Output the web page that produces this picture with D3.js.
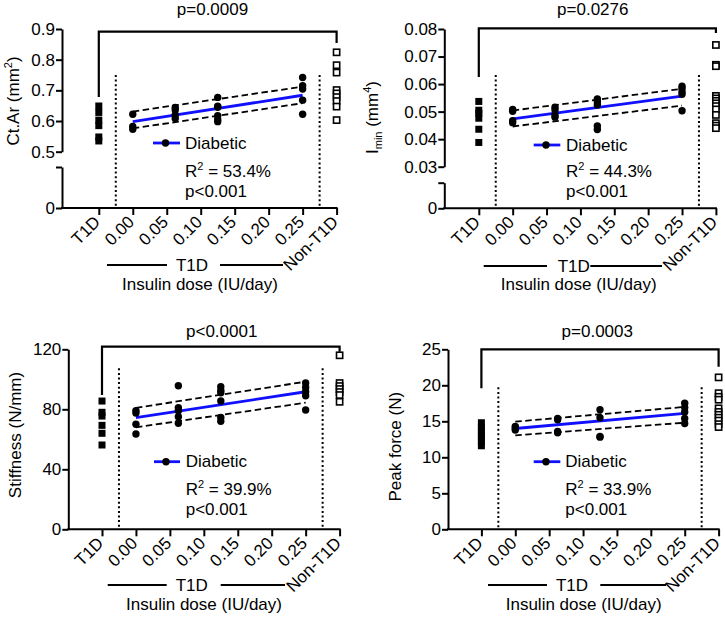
<!DOCTYPE html>
<html><head><meta charset="utf-8">
<script src="https://cdn.jsdelivr.net/npm/d3@7"></script>
<style>
body{margin:0;background:#fff}
svg{display:block}
text{font-family:"Liberation Sans",Arial,Helvetica,sans-serif;fill:#000}
</style></head><body>
<svg id="chart" width="725" height="619"></svg>
<script>
// ---------- shared ----------
const xTickValues = [-0.05, 0, 0.05, 0.10, 0.15, 0.20, 0.25, 0.30];
const xTickLabels = ["T1D", "0.00", "0.05", "0.10", "0.15", "0.20", "0.25", "Non-T1D"];
const doseLevels = [0, 0.0625, 0.125, 0.25];
const fitDoses = [0, 0.25];
const groupLabel = "T1D";
const xAxisTitle = "Insulin dose (IU/day)";
const legendLabel = "Diabetic";
const regressionP = "p<0.001";

// ---------- Ct.Ar ----------
const ctArTicks = [0.5, 0.6, 0.7, 0.8, 0.9];
const ctArDiabetic = [[0.622, 0.582, 0.573], [0.644, 0.636, 0.620, 0.608], [0.677, 0.648, 0.645, 0.617, 0.605, 0.598], [0.742, 0.715, 0.704, 0.668, 0.622]];
const ctArT1D = [0.649, 0.628, 0.603, 0.585, 0.548, 0.535];
const ctArNonT1D = [0.824, 0.782, 0.758, 0.701, 0.690, 0.678, 0.665, 0.647, 0.603];
const ctArFit = [0.598, 0.684];
const ctArUpper = [0.631, 0.712];
const ctArLower = [0.576, 0.658];
const ctArTitle = "p=0.0009";
const ctArR2 = "53.4%";

// ---------- Imin ----------
const iminTicks = [0.03, 0.04, 0.05, 0.06, 0.07, 0.08];
const iminDiabetic = [[0.0508, 0.0501, 0.0467, 0.0460], [0.0516, 0.0506, 0.0488, 0.0480], [0.0546, 0.0536, 0.0524, 0.0448, 0.0435], [0.0592, 0.0584, 0.0572, 0.0563, 0.0503]];
const iminT1D = [0.0537, 0.0505, 0.0494, 0.0476, 0.0436, 0.0388];
const iminNonT1D = [0.0742, 0.0670, 0.0665, 0.0557, 0.0548, 0.0539, 0.0530, 0.0520, 0.0508, 0.0488, 0.0458, 0.0449, 0.0440];
const iminFit = [0.0474, 0.0556];
const iminUpper = [0.0504, 0.0583];
const iminLower = [0.0446, 0.0522];
const iminTitle = "p=0.0276";
const iminR2 = "44.3%";

// ---------- Stiffness ----------
const stiffTicks = [0, 40, 80, 120];
const stiffDiabetic = [[79, 77.5, 70, 63.5], [95.7, 81, 79, 75, 70.7], [95, 92.5, 91, 85.5, 74.5, 72], [97.5, 94.5, 91.7, 89, 79.5]];
const stiffT1D = [85.5, 78, 75.5, 69.3, 64, 56.2];
const stiffNonT1D = [116, 97.5, 95.5, 93.5, 91.5, 89.5, 85];
const stiffFit = [74.5, 91.7];
const stiffUpper = [81, 98.4];
const stiffLower = [68, 84.4];
const stiffTitle = "p<0.0001";
const stiffR2 = "39.9%";

// ---------- Peak force ----------
const forceTicks = [0, 5, 10, 15, 20, 25];
const forceDiabetic = [[14.3, 14.0, 13.8], [15.4, 15.2, 13.6, 13.4], [16.6, 15.5, 12.9, 12.8], [17.5, 16.9, 16.3, 15.4, 14.7]];
const forceT1D = [14.8, 14.2, 13.7, 13.2, 12.7, 12.2, 11.6];
const forceNonT1D = [21.1, 18.9, 18.4, 18.0, 16.8, 16.3, 15.9, 15.5, 15.1, 14.6, 14.2];
const forceFit = [14.0, 16.1];
const forceUpper = [14.95, 17.0];
const forceLower = [13.05, 14.8];
const forceTitle = "p=0.0003";
const forceR2 = "33.9%";

const svg = d3.select("#chart");
const BLUE = "#1010ff";
const FS = 17, TFS = 17;

const panels = [
  { data: { ticks: ctArTicks, fmt: ".1f", diab: ctArDiabetic, t1d: ctArT1D, non: ctArNonT1D, fit: ctArFit, up: ctArUpper, lo: ctArLower, title: ctArTitle, r2: ctArR2, lowerDomain: [0, 0.1] },
    yLabel: ["Ct.Ar (mm", "2", ")"], sub: null,
    axisX: 62, xRange: [98.8, 336.6], yRange: [151.7, 29], lowerRange: [208, 167], baseY: 208,
    bracket: [31.7, 97, 43], titleXY: [212.5, 15], dotTop: 75,
    legend: { x1: 153, x2: 180, y: 143, tx: 185, y1: 148.5, y2: 176.5, y3: 196.5 },
    group: { y: 265, segs: [[107, 167], [220, 283]], tx: 192 }, xLab: [200, 290], yLab: [12.5, 101] },
  { data: { ticks: iminTicks, fmt: ".2f", diab: iminDiabetic, t1d: iminT1D, non: iminNonT1D, fit: iminFit, up: iminUpper, lo: iminLower, title: iminTitle, r2: iminR2, lowerDomain: [0, 0.01] },
    yLabel: null, sub: true,
    axisX: 444.3, xRange: [478.8, 715.9], yRange: [166.7, 29], lowerRange: [208.3, 182.7], baseY: 208.3,
    bracket: [28.3, 77, 33], titleXY: [592.8, 15], dotTop: 75,
    legend: { x1: 533.7, x2: 560.3, y: 145, tx: 566, y1: 150.5, y2: 176.5, y3: 197 },
    group: { y: 266, segs: [[483.7, 547], [590.3, 662]], tx: 573.7 }, xLab: [578.7, 290], yLab: [372, 117.5] },
  { data: { ticks: stiffTicks, fmt: "d", diab: stiffDiabetic, t1d: stiffT1D, non: stiffNonT1D, fit: stiffFit, up: stiffUpper, lo: stiffLower, title: stiffTitle, r2: stiffR2, lowerDomain: null },
    yLabel: ["Stiffness (N/mm)"], sub: null,
    axisX: 68.3, xRange: [102, 339.6], yRange: [529.3, 349.3], lowerRange: null, baseY: 529.3,
    bracket: [346.7, 395, 351.7], titleXY: [221.7, 336.7], dotTop: 368.3,
    legend: { x1: 154, x2: 180, y: 461.7, tx: 185.7, y1: 467, y2: 495, y3: 515 },
    group: { y: 585, segs: [[107.7, 166.7], [220.7, 285]], tx: 191.7 }, xLab: [204, 610], yLab: [15, 435] },
  { data: { ticks: forceTicks, fmt: "d", diab: forceDiabetic, t1d: forceT1D, non: forceNonT1D, fit: forceFit, up: forceUpper, lo: forceLower, title: forceTitle, r2: forceR2, lowerDomain: null },
    yLabel: ["Peak force (N)"], sub: null,
    axisX: 448, xRange: [481.4, 718.6], yRange: [529.3, 349.3], lowerRange: null, baseY: 529.3,
    bracket: [349.3, 388.3, 366.7], titleXY: [597.3, 336.7], dotTop: 387.3,
    legend: { x1: 533.7, x2: 560.3, y: 461.7, tx: 565.3, y1: 467, y2: 495, y3: 515 },
    group: { y: 585, segs: [[488, 547], [600.3, 666]], tx: 572 }, xLab: [583.7, 610], yLab: [395.3, 446.7] }
];

function styleAxis(sel) {
  sel.selectAll("path.domain").attr("stroke", "#000").attr("stroke-width", 2);
  sel.selectAll(".tick line").attr("stroke", "#000").attr("stroke-width", 2);
  sel.selectAll("text").attr("font-size", TFS).attr("font-family", '"Liberation Sans",Arial,sans-serif').attr("fill", "#000");
}

panels.forEach(p => {
  const d = p.data;
  const g = svg.append("g");
  const x = d3.scaleLinear().domain([xTickValues[0], xTickValues[xTickValues.length - 1]]).range(p.xRange);
  const dom = [d.ticks[0], d.ticks[d.ticks.length - 1]];
  const y = d3.scaleLinear().domain(dom).range(p.yRange);

  // dotted separators
  [-0.025, 0.275].forEach(v => {
    g.append("line").attr("x1", x(v)).attr("x2", x(v)).attr("y1", p.dotTop).attr("y2", p.baseY)
      .attr("stroke", "#000").attr("stroke-width", 2).attr("stroke-dasharray", "2,2.6");
  });

  // y axis (upper)
  const ya = g.append("g").attr("transform", `translate(${p.axisX},0)`)
    .call(d3.axisLeft(y).tickValues(d.ticks).tickFormat(d3.format(d.fmt)).tickSize(6).tickSizeOuter(0).tickPadding(1));
  styleAxis(ya);
  if (d.lowerDomain) {
    const yl = d3.scaleLinear().domain(d.lowerDomain).range(p.lowerRange);
    const yb = g.append("g").attr("transform", `translate(${p.axisX},0)`)
      .call(d3.axisLeft(yl).tickValues(d.lowerDomain).tickFormat(v => v === 0 ? "0" : "").tickSize(6).tickSizeOuter(0).tickPadding(1));
    styleAxis(yb);
  }

  // x axis
  const xa = g.append("g").attr("transform", `translate(0,${p.baseY})`)
    .call(d3.axisBottom(x).tickValues(xTickValues).tickFormat((v, i) => xTickLabels[i]).tickSize(7).tickSizeOuter(0));
  styleAxis(xa);
  xa.select("path.domain").remove();
  xa.append("line").attr("x1", p.axisX - 1).attr("x2", x(xTickValues[xTickValues.length - 1]) + 1).attr("y1", 0).attr("y2", 0)
    .attr("stroke", "#000").attr("stroke-width", 2);
  xa.selectAll(".tick text").attr("x", null).attr("y", null).attr("dy", null)
    .attr("text-anchor", "end").attr("transform", "translate(2,15) rotate(-45)");

  // CI dashed + fit line
  const line = d3.line().x((v, i) => x(fitDoses[i])).y(v => y(v));
  [d.up, d.lo].forEach(arr => g.append("path").attr("d", line(arr)).attr("fill", "none")
    .attr("stroke", "#000").attr("stroke-width", 1.8).attr("stroke-dasharray", "6.5,3.5"));
  g.append("path").attr("d", line(d.fit)).attr("fill", "none").attr("stroke", BLUE).attr("stroke-width", 2.8);

  // diabetic points
  d.diab.forEach((vals, i) => vals.forEach(v => g.append("circle").attr("cx", x(doseLevels[i])).attr("cy", y(v)).attr("r", 3.7).attr("fill", "#000")));

  // T1D filled squares, Non-T1D open squares
  const s = 7;
  d.t1d.forEach(v => g.append("rect").attr("x", x(xTickValues[0]) - s / 2).attr("y", y(v) - s / 2).attr("width", s).attr("height", s).attr("fill", "#000"));
  const so = 6.2;
  d.non.forEach(v => g.append("rect").attr("x", x(xTickValues[xTickValues.length - 1]) - so / 2).attr("y", y(v) - so / 2).attr("width", so).attr("height", so)
    .attr("fill", "#fff").attr("stroke", "#000").attr("stroke-width", 1.6));

  // bracket
  const xl = x(xTickValues[0]), xr = x(xTickValues[xTickValues.length - 1]);
  g.append("path").attr("d", `M${xl},${p.bracket[1]}V${p.bracket[0]}H${xr}V${p.bracket[2]}`)
    .attr("fill", "none").attr("stroke", "#000").attr("stroke-width", 2.2);
  g.append("text").attr("x", p.titleXY[0]).attr("y", p.titleXY[1]).attr("text-anchor", "middle").attr("font-size", FS).text(d.title);

  // legend
  const L = p.legend;
  g.append("line").attr("x1", L.x1).attr("x2", L.x2).attr("y1", L.y).attr("y2", L.y).attr("stroke", BLUE).attr("stroke-width", 2.8);
  g.append("circle").attr("cx", (L.x1 + L.x2) / 2 - 1).attr("cy", L.y).attr("r", 3.7).attr("fill", "#000");
  g.append("text").attr("x", L.tx).attr("y", L.y1).attr("font-size", FS).text(legendLabel);
  const r2 = g.append("text").attr("x", L.tx).attr("y", L.y2).attr("font-size", FS);
  r2.append("tspan").text("R");
  r2.append("tspan").attr("font-size", 11).attr("dy", -7).text("2");
  r2.append("tspan").attr("dy", 7).text(" = " + d.r2);
  g.append("text").attr("x", L.tx).attr("y", L.y3).attr("font-size", FS).text(regressionP);

  // group line + axis title
  p.group.segs.forEach(sg => g.append("line").attr("x1", sg[0]).attr("x2", sg[1]).attr("y1", p.group.y).attr("y2", p.group.y).attr("stroke", "#000").attr("stroke-width", 2));
  g.append("text").attr("x", p.group.tx).attr("y", p.group.y).attr("dy", "0.36em").attr("text-anchor", "middle").attr("font-size", FS).text(groupLabel);
  g.append("text").attr("x", p.xLab[0]).attr("y", p.xLab[1]).attr("text-anchor", "middle").attr("font-size", FS).text(xAxisTitle);

  // y label
  const yt = g.append("text").attr("transform", `translate(${p.yLab[0]},${p.yLab[1]}) rotate(-90)`)
    .attr("text-anchor", "middle").attr("dy", "0.36em").attr("font-size", FS);
  if (p.sub) {
    yt.append("tspan").text("I");
    yt.append("tspan").attr("font-size", 11).attr("dy", 4).text("min");
    yt.append("tspan").attr("dy", -4).text(" (mm");
    yt.append("tspan").attr("font-size", 11).attr("dy", -7).text("4");
    yt.append("tspan").attr("dy", 7).text(")");
  } else if (p.yLabel.length === 3) {
    yt.append("tspan").text(p.yLabel[0]);
    yt.append("tspan").attr("font-size", 11).attr("dy", -7).text(p.yLabel[1]);
    yt.append("tspan").attr("dy", 7).text(p.yLabel[2]);
  } else {
    yt.text(p.yLabel[0]);
  }
});
</script>
</body></html>
